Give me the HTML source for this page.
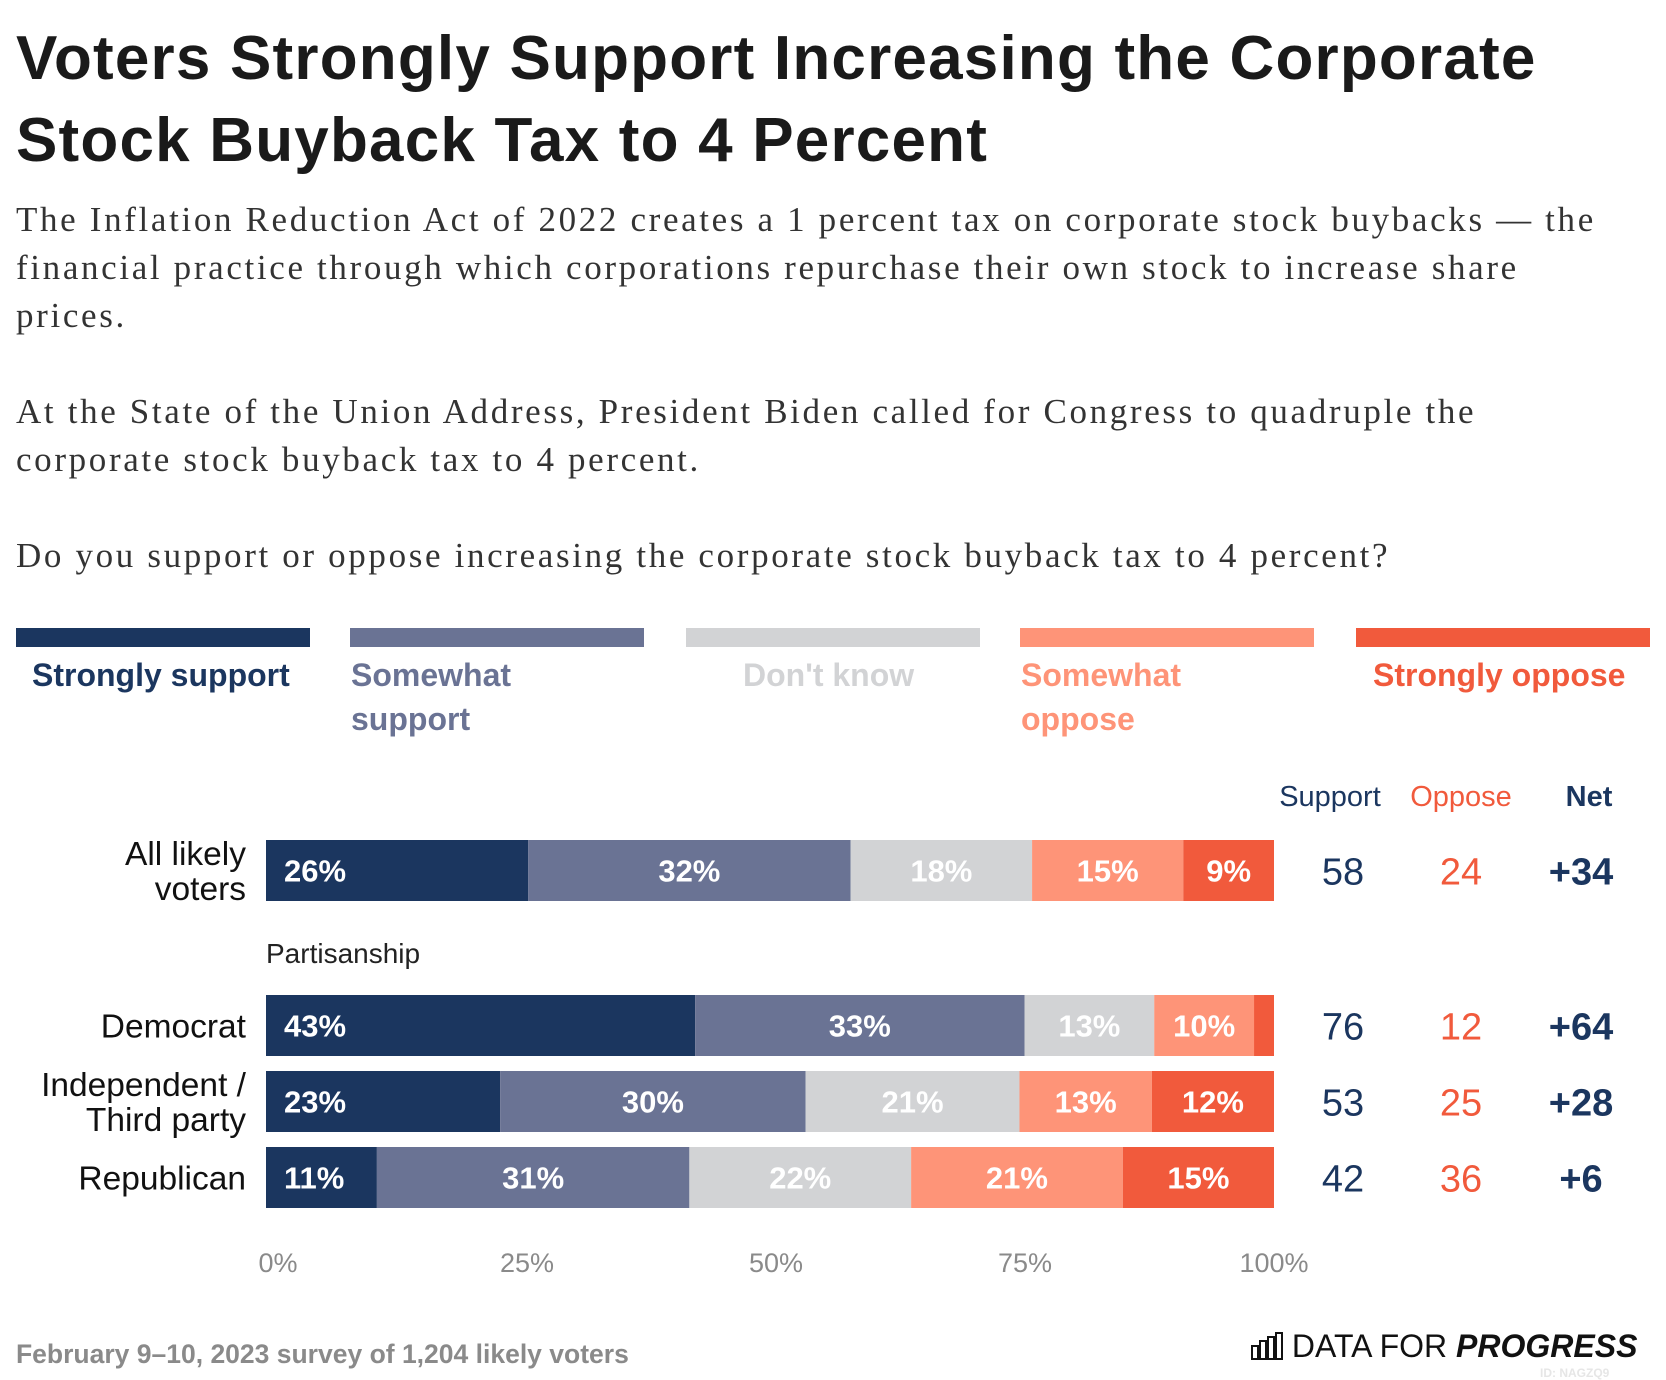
<!DOCTYPE html>
<html><head><meta charset="utf-8"><style>
html,body{margin:0;padding:0;background:#fff}
body{width:1666px;height:1380px;position:relative;overflow:hidden;font-family:"Liberation Sans",sans-serif}
.t{position:absolute;white-space:nowrap}
</style></head><body>
<div class="t" style="left:16px;top:18px;font-size:62px;font-weight:bold;color:#1a1a1a;line-height:82px;letter-spacing:1.2px">Voters Strongly Support Increasing the Corporate<br>Stock Buyback Tax to 4 Percent</div>
<div class="t" style="left:16px;top:196px;font-family:'Liberation Serif',serif;font-size:35px;color:#333;line-height:48px;letter-spacing:2.65px">The Inflation Reduction Act of 2022 creates a 1 percent tax on corporate stock buybacks — the<br>financial practice through which corporations repurchase their own stock to increase share<br>prices.<br><br>At the State of the Union Address, President Biden called for Congress to quadruple the<br>corporate stock buyback tax to 4 percent.<br><br>Do you support or oppose increasing the corporate stock buyback tax to 4 percent?</div>
<svg id="chart" width="1666" height="1380" style="position:absolute;left:0;top:0" font-family="Liberation Sans, sans-serif"></svg>
<div class="t" style="left:16px;top:1339px;font-size:26.5px;font-weight:bold;color:#8a8a8a">February 9–10, 2023 survey of 1,204 likely voters</div>
<div class="t" style="left:1251px;top:1328px;font-size:32px;color:#111">
<svg width="32" height="28" style="vertical-align:-3px"><g fill="none" stroke="#111" stroke-width="2"><rect x="1" y="14" width="6" height="13"/><rect x="9" y="9" width="6" height="18"/><rect x="17" y="5" width="6" height="22"/><rect x="25" y="1" width="6" height="26"/></g></svg>
DATA FOR <b><i>PROGRESS</i></b></div>
<div class="t" style="left:1540px;top:1366px;font-size:12px;font-weight:bold;color:#e6e6e6">ID: NAGZQ9</div>
<script>
const categories=["All likely voters","Democrat","Independent / Third party","Republican"];
const stronglySupport=[26,43,23,11];
const somewhatSupport=[32,33,30,31];
const dontKnow=[18,13,21,22];
const somewhatOppose=[15,10,13,21];
const stronglyOppose=[9,2,12,15];
const supportTotal=[58,76,53,42];
const opposeTotal=[24,12,25,36];
const netValues=["+34","+64","+28","+6"];
const tickValues=[0,25,50,75,100];
const seriesNames=["Strongly support","Somewhat support","Don't know","Somewhat oppose","Strongly oppose"];
const colors=["#1b365f","#6a7394","#d2d3d5","#fe9478","#f15a3c"];
const textColors=["#1b365f","#6a7394","#d2d3d5","#fe9478","#f15a3c"];
const NS="http://www.w3.org/2000/svg";
const svg=document.getElementById('chart');
function mk(tag,attrs,txt){const e=document.createElementNS(NS,tag);for(const k in attrs)e.setAttribute(k,attrs[k]);if(txt!==undefined)e.textContent=txt;svg.appendChild(e);return e;}
const x0=266,x1=1274;
const xs=v=>x0+(x1-x0)*v/100;
const rowY=[840,995,1071,1147],rowH=61;
const legX=[16,350,686,1020,1356],legW=294;
const legLines=[["Strongly support"],["Somewhat","support"],["Don't know"],["Somewhat","oppose"],["Strongly oppose"]];
const legTX=[32,351,743,1021,1373];
seriesNames.forEach((n,i)=>{
 let r=mk('rect',{x:legX[i],y:628,width:legW,height:19,fill:colors[i]});
 
 
 legLines[i].forEach((l,j)=>{
  let t=mk('text',{x:legTX[i],y:686+j*44,'font-size':32,'font-weight':'bold',fill:textColors[i]},l);
  
  
 });
});
[["Support",1330,"#1b365f","normal"],["Oppose",1461,"#f15a3c","normal"],["Net",1589,"#1b365f","bold"]].forEach(h=>{
 let t=mk('text',{x:h[1],y:806,'font-size':29,'text-anchor':'middle',fill:h[2],'font-weight':h[3]},h[0]);
 
 
});
let pt=mk('text',{x:266,y:963,'font-size':28,fill:'#222'},"Partisanship");


const catLines=[["All likely","voters"],["Democrat"],["Independent /","Third party"],["Republican"]];
const series=[stronglySupport,somewhatSupport,dontKnow,somewhatOppose,stronglyOppose];
categories.forEach((c,ri)=>{
 const y=rowY[ri];
 const lines=catLines[ri];
 lines.forEach((l,j)=>{
  const ly=y+rowH/2+12+(j-(lines.length-1)/2)*35;
  let t=mk('text',{x:246,y:ly,'font-size':33.5,'text-anchor':'end',fill:'#111'},l);
  
  
 });
 let tot=series.reduce((s,a)=>s+a[ri],0);
 let cum=0;
 series.forEach((s,si)=>{
  const v=s[ri];
  const a=xs(cum/tot*100),b=xs((cum+v)/tot*100);
  let r=mk('rect',{x:a,y:y,width:b-a,height:rowH,fill:colors[si]});
  
  
  if(v>=5){
   const tx=si===0?a+18:(a+b)/2;
   let t=mk('text',{x:tx,y:y+rowH/2+11,'font-size':31,'font-weight':'bold',fill:'#fff','text-anchor':si===0?'start':'middle'},v+'%');
   
   
  }
  cum+=v;
 });
 let t1=mk('text',{x:1343,y:y+rowH/2+14,'font-size':38,'text-anchor':'middle',fill:'#1b365f'},supportTotal[ri]);
 
 
 let t2=mk('text',{x:1461,y:y+rowH/2+14,'font-size':38,'text-anchor':'middle',fill:'#f15a3c'},opposeTotal[ri]);
 
 
 let t3=mk('text',{x:1581,y:y+rowH/2+14,'font-size':38,'font-weight':'bold','text-anchor':'middle',fill:'#1b365f'},netValues[ri]);
 
 
});
tickValues.forEach(v=>{
 let t=mk('text',{x:xs(v)+12-v*0.12,y:1272,'font-size':27,'text-anchor':'middle',fill:'#8a8a8a'},v+'%');
 
 
});
</script>
</body></html>
